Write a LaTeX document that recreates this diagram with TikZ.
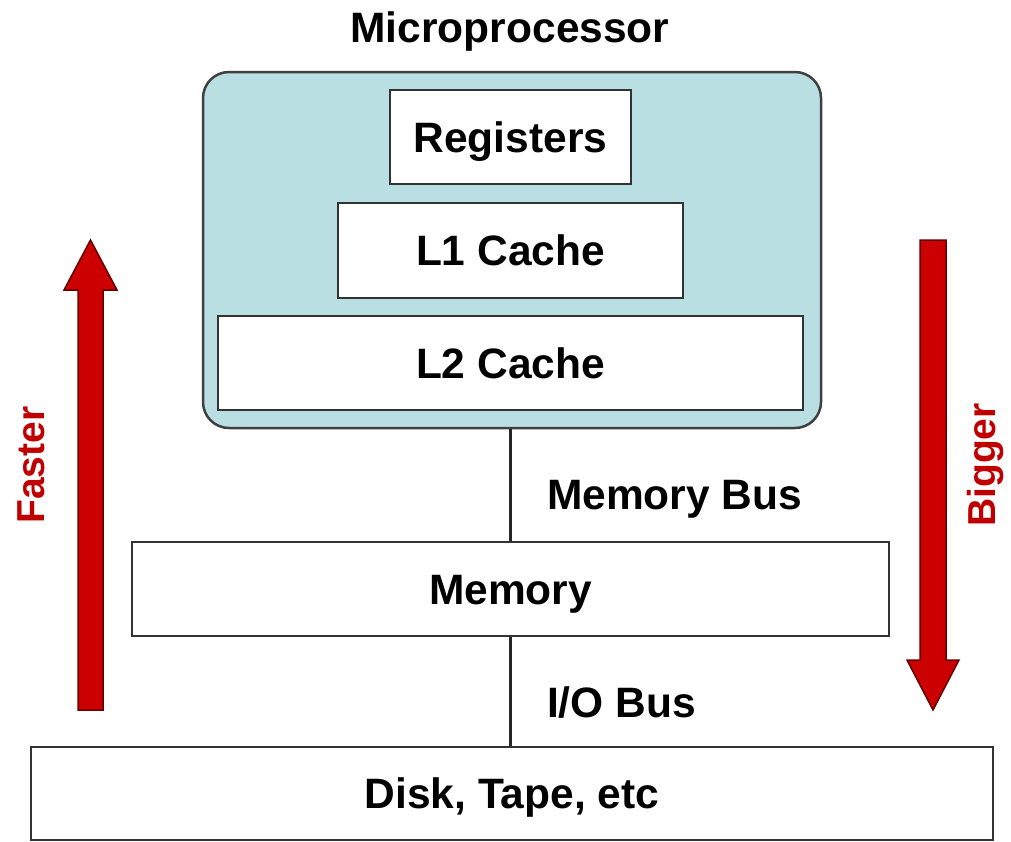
\documentclass[tikz,border=0pt]{standalone}
\usepackage{fontspec}
\setmainfont{Liberation Sans}
\definecolor{cpufill}{HTML}{B9DFE3}
\definecolor{arrowred}{HTML}{CC0000}
\definecolor{sidered}{HTML}{C00000}
\begin{document}
\begin{tikzpicture}[x=1pt,y=-1pt,
  bigfont/.style={font=\fontsize{42.5}{50}\selectfont\bfseries},
  lbl/.style={bigfont, text=black, text height=30pt, text depth=0pt, inner sep=0pt},
  box/.style={draw=black!80, line width=2pt, fill=white, inner sep=0pt,
    bigfont, text height=30pt, text depth=0pt},
  bigarrow/.style={fill=arrowred, draw=black!60!red, line width=1.5pt, line join=miter},
  side/.style={font=\fontsize{39}{46}\selectfont\bfseries, text=sidered}]
\useasboundingbox (0,0) rectangle (1011,841);

% processor package
\node[draw=black!75, line width=2.5pt, fill=cpufill, rounded corners=26pt,
  minimum width=618pt, minimum height=356pt, inner sep=0pt] (cpu) at (512,250) {};
\node[lbl] (cputitle) at (510,27) {Microprocessor};

\node[box, minimum width=241pt, minimum height=94pt] (reg) at (510.5,137) {Registers};
\node[box, minimum width=345pt, minimum height=95pt] (l1) at (510.5,250.5) {L1 Cache};
\node[box, minimum width=585pt, minimum height=94pt] (l2) at (510.5,363) {L2 Cache};
\node[box, minimum width=757pt, minimum height=94pt] (mem) at (510.5,589) {Memory};
\node[box, minimum width=962pt, minimum height=93pt] (disk) at (512,793.5) {Disk, Tape, etc};

% buses
\draw[line width=3pt, black!85] (cpu.south -| mem.north) -- (mem.north)
  node[lbl, midway, anchor=west, xshift=35pt, yshift=-9pt] (membus) {Memory Bus};
\draw[line width=3pt, black!85] (mem.south) -- (mem.south |- disk.north)
  node[lbl, midway, anchor=west, xshift=35pt, yshift=-11pt] (iobus) {I/O Bus};

% speed / size arrows
\draw[bigarrow] (78,710) -- (78,290) -- (64,290) -- (90.5,240) -- (117,290) -- (103,290) -- (103,710) -- cycle;
\draw[bigarrow] (920,240) -- (920,660) -- (907,660) -- (933,710) -- (959,660) -- (946,660) -- (946,240) -- cycle;
\node[side, rotate=90] (faster) at (31,465) {Faster};
\node[side, rotate=90] (bigger) at (985,465) {Bigger};
\end{tikzpicture}
\end{document}
